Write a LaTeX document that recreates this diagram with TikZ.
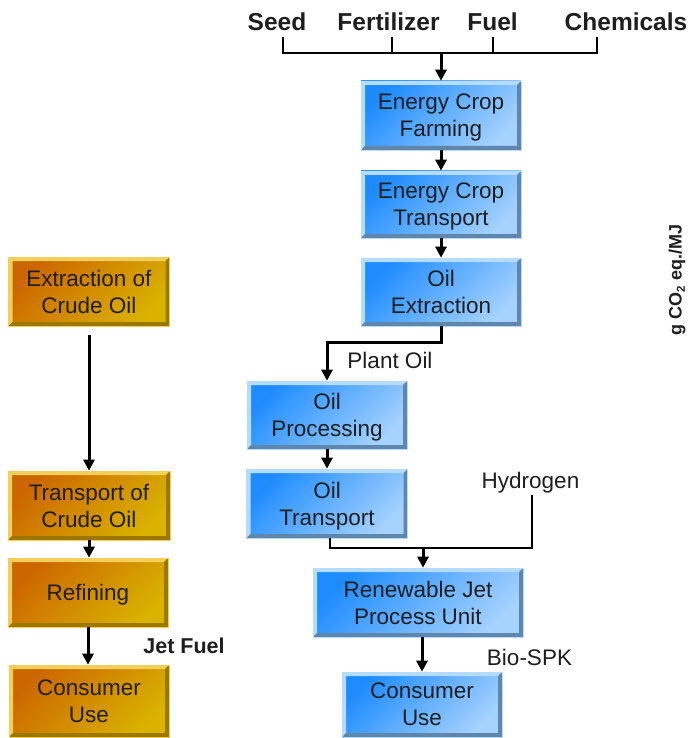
\documentclass[tikz,border=0pt]{standalone}
\usepackage{fontspec}
\setmainfont{Liberation Sans}
\usetikzlibrary{arrows.meta,calc}
\definecolor{bTL}{HTML}{1E8CFF}
\definecolor{bBR}{HTML}{A6D2FF}
\definecolor{bL}{HTML}{B5DBFF}
\definecolor{bD}{HTML}{5F87AD}
\definecolor{oTL}{HTML}{CC6600}
\definecolor{oBR}{HTML}{D9B300}
\definecolor{oL}{HTML}{F2CF5A}
\definecolor{oD}{HTML}{9C7800}
\definecolor{ink}{HTML}{1E1E1E}
\tikzset{
  bevel/.style 2 args={path picture={
    \fill[#1] (path picture bounding box.north west) -- (path picture bounding box.north east)
      -- ([xshift=-4pt,yshift=-4pt]path picture bounding box.north east)
      -- ([xshift=4pt,yshift=-4pt]path picture bounding box.north west)
      -- ([xshift=4pt,yshift=4pt]path picture bounding box.south west)
      -- (path picture bounding box.south west) -- cycle;
    \fill[#2] (path picture bounding box.south east) -- (path picture bounding box.north east)
      -- ([xshift=-4pt,yshift=-4pt]path picture bounding box.north east)
      -- ([xshift=-4pt,yshift=4pt]path picture bounding box.south east)
      -- ([xshift=4pt,yshift=4pt]path picture bounding box.south west)
      -- (path picture bounding box.south west) -- cycle;
  }},
  box/.style 2 args={rectangle, inner sep=0pt, align=center, text depth=0pt, minimum width=#1pt, minimum height=#2pt},
  bluebox/.style 2 args={box={#1}{#2}, top color=bTL, bottom color=bBR, shading angle=45, draw=bL, line width=0.6pt, bevel={bL}{bD}},
  orangebox/.style 2 args={box={#1}{#2}, top color=oTL, bottom color=oBR, shading angle=45, draw=oL, line width=0.6pt, bevel={oL}{oD}},
  arr/.style={-{Triangle[length=11pt,width=11pt]}, line width=3pt},
  thinline/.style={line width=2pt},
  toplabel/.style={font=\bfseries\fontsize{24.5}{29}\selectfont, anchor=base, inner sep=0pt},
  lbl/.style={anchor=base, inner sep=0pt},
}
\begin{document}
\begin{tikzpicture}[x=1pt, y=-1pt, font=\fontsize{22.5}{27}\selectfont, text=ink]
\useasboundingbox (0,0) rectangle (693,738);
% top inputs
\node[toplabel] (seed) at (277,31) {Seed};
\node[toplabel] (fert) at (388.5,31) {Fertilizer};
\node[toplabel] (fuel) at (492.5,31) {Fuel};
\node[toplabel] (chem) at (626,31) {Chemicals};
\coordinate (t1) at (283,37);
\coordinate (t2) at (392,37);
\coordinate (t3) at (493,37);
\coordinate (t4) at (597,37);
\coordinate (bar) at (440,53);
% blue chain
\node[bluebox={160}{69}] (farm) at (441,115.5) {Energy Crop\\Farming};
\node[bluebox={160}{67}] (ctrans) at (441,204.5) {Energy Crop\\Transport};
\node[bluebox={160}{68}] (oext) at (441,292) {Oil\\Extraction};
\node[bluebox={160}{68}] (oproc) at (327,415) {Oil\\Processing};
\node[bluebox={161}{69}] (otrans) at (327,503.5) {Oil\\Transport};
\node[bluebox={210}{69}] (rjpu) at (418,602.5) {Renewable Jet\\Process Unit};
\node[bluebox={160}{65}] (cuse) at (422,704.5) {Consumer\\Use};
% orange chain
\node[orangebox={161}{69}] (ext) at (89,291.5) {Extraction of\\Crude Oil};
\node[orangebox={162}{69}] (tco) at (89,505.5) {Transport of\\Crude Oil};
\node[orangebox={160}{69}] (ref) at (88,592.5) {Refining};
\node[orangebox={160}{72}] (ocu) at (89,701) {Consumer\\Use};
% labels
\node[lbl] (plant) at (390,368) {Plant Oil};
\node[lbl] (hyd) at (530.5,488) {Hydrogen};
\node[lbl] (bio) at (529.5,665) {Bio-SPK};
\node[lbl, font=\bfseries\fontsize{21.5}{26}\selectfont] (jet) at (184,653) {Jet Fuel};
\node[rotate=90, font=\bfseries\fontsize{18}{22}\selectfont] (unit) at (677,280) {g CO\raisebox{-0.35ex}{\fontsize{11.5}{12}\selectfont 2} eq./MJ};
% connectors top
\draw[thinline] (t1) |- (t4 |- bar) -- (t4);
\draw[thinline] (t2) -- (t2 |- bar);
\draw[thinline] (t3) -- (t3 |- bar);
\draw[arr] (farm.north |- bar) -- (farm.north);
\draw[arr] (farm.south) -- (ctrans.north);
\draw[arr] (ctrans.south) -- (oext.north);
\draw[arr] (oext.south) -- ++(0,16) -| (oproc.north);
\draw[arr] (oproc.south) -- (oproc.south |- otrans.north);
\coordinate (j) at (423,548);
\coordinate (h) at (532,495);
\draw[thinline] ([xshift=3pt]otrans.south) |- (j) -| (h);
\draw[arr] (j) -- (j |- rjpu.north);
\draw[arr] (cuse.north |- rjpu.south) -- (cuse.north);
% left connectors
\draw[arr, shorten <=9pt] (ext.south) -- (ext.south |- tco.north);
\draw[arr] (tco.south) -- (tco.south |- ref.north);
\draw[arr] (ref.south) -- (ref.south |- ocu.north);
\end{tikzpicture}
\end{document}
